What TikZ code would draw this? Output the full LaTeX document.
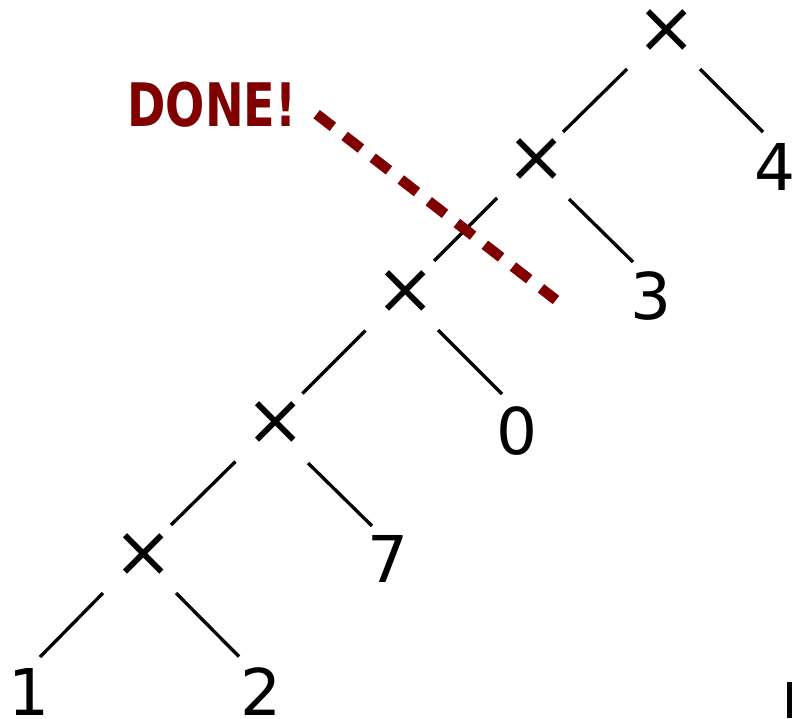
\documentclass[tikz,border=0pt]{standalone}
\usepackage{fontspec}
\setmainfont{DejaVu Sans}
\usetikzlibrary{calc}
\definecolor{donered}{RGB}{128,0,0}
\tikzset{
  times/.style={inner sep=0pt, anchor=center, font=\fontsize{72}{80}\selectfont},
  leaf/.style={inner sep=0pt, anchor=base, font=\fontsize{64.5}{70}\selectfont},
  edge/.style={line width=3.3pt, line cap=butt},
  donedash/.style={draw=donered, line width=10.5pt, dash pattern=on 20.6pt off 14.9pt}
}
\begin{document}
\begin{tikzpicture}[x=1pt, y=-1pt]
\useasboundingbox (0,0) rectangle (792,718);
% operator nodes
\node[times] (r) at (667,31) {×};
\node[times] (a) at (537,160) {×};
\node[times] (b) at (405.5,292.5) {×};
\node[times] (c) at (275.5,423.5) {×};
\node[times] (d) at (144,555) {×};
% leaves
\node[leaf] (n4) at (775,190) {4};
\node[leaf] (n3) at (651,319) {3};
\node[leaf] (n0) at (517,454) {0};
\node[leaf] (n7) at (388,582) {7};
\node[leaf] (n1) at (29,715) {1};
\node[leaf] (n2) at (261,715) {2};
% edges
\draw[edge] ($(r)+(-40,38)$) -- ($(a)+(26,-28)$);
\draw[edge] ($(r)+(33,38)$) -- ($(n4)+(-12,-34.5)$);
\draw[edge] ($(a)+(-40,38)$) -- ($(b)+(28.5,-31.5)$);
\draw[edge] ($(a)+(32,39)$) -- ($(n3)+(-18,-33.5)$);
\draw[edge] ($(b)+(-40,38)$) -- ($(c)+(27,-30)$);
\draw[edge] ($(b)+(32.5,37.5)$) -- ($(n0)+(-15,-36.5)$);
\draw[edge] ($(c)+(-40,38)$) -- ($(d)+(27,-30)$);
\draw[edge] ($(c)+(32.5,39.5)$) -- ($(n7)+(-16,-32.5)$);
\draw[edge] ($(d)+(-41,38)$) -- ($(n1)+(11,-34.5)$);
\draw[edge] ($(d)+(32,38)$) -- ($(n2)+(-22,-34.5)$);
% DONE! marker
\node[inner sep=0pt, anchor=base, xscale=0.77, text=donered,
      font=\fontsize{60}{66}\selectfont\bfseries] (done) at (212,126) {DONE!};
\coordinate (dashend) at (556,300);
\draw[donedash] ($(done.east)+(20,10)$) coordinate (dashstart) -- (dashend);
% cropped mark at lower right
\fill (787,682) rectangle (792,718);
\end{tikzpicture}
\end{document}
